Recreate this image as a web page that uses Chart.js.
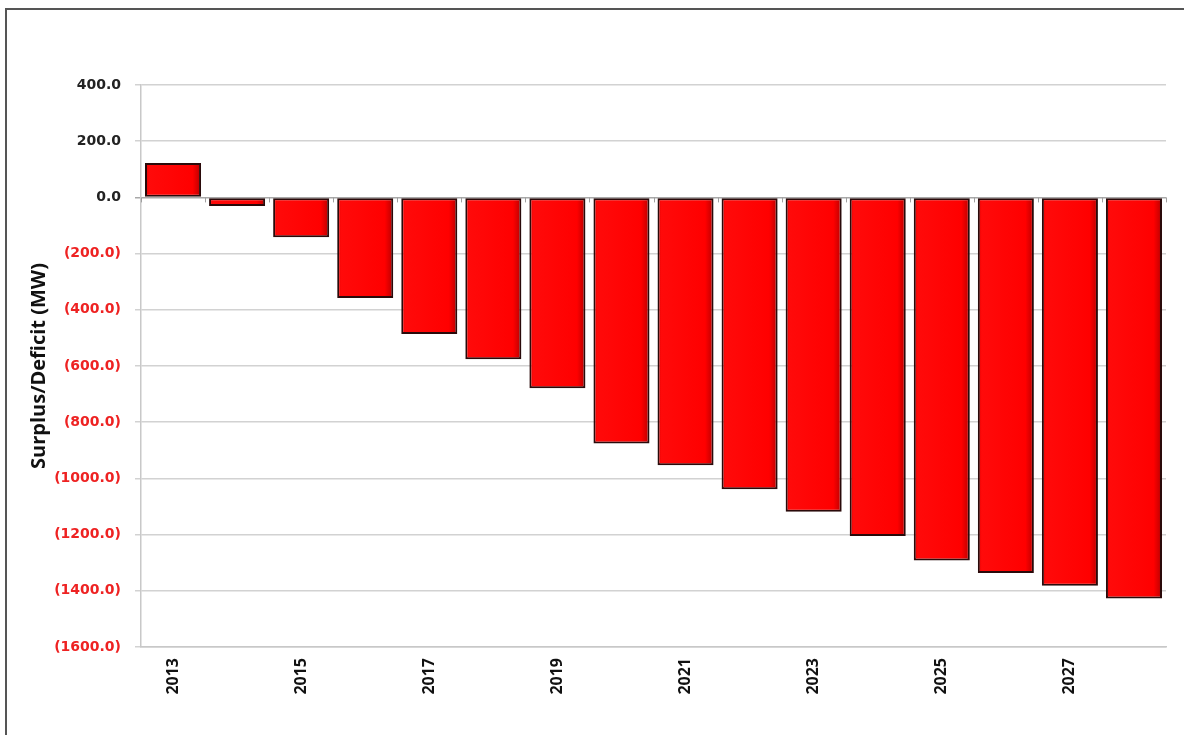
<!DOCTYPE html>
<html>
<head>
<meta charset="utf-8">
<script src="https://cdn.jsdelivr.net/npm/chart.js@4.4.1/dist/chart.umd.min.js"></script>
<style>
  html, body { margin: 0; padding: 0; background: #fff; }
  #wrap { position: relative; width: 1184px; height: 735px; }
  #frame {
    position: absolute; left: 5px; top: 8px; right: 0; bottom: 0;
    border-top: 2px solid #555; border-left: 2px solid #555;
    pointer-events: none;
  }
  canvas { position: absolute; left: 0; top: 0; }
</style>
</head>
<body>
<div id="wrap">
  <canvas id="chart" width="1184" height="735"></canvas>
  <div id="frame"></div>
</div>
<script>
const years = ['2013', '2014', '2015', '2016', '2017', '2018', '2019', '2020',
  '2021', '2022', '2023', '2024', '2025', '2026', '2027', '2028'];
const surplus = [122, -31, -142, -358, -486, -576, -679, -876,
  -953, -1039, -1119, -1205, -1292, -1337, -1382, -1427];
const yTicks = [400, 200, 0, -200, -400, -600, -800, -1000, -1200, -1400, -1600];

const BAR_PCT = 0.875;

// per-bar horizontal gradient to fake the bevelled Excel bars
function barFill(c) {
  const x = c.chart.scales.x;
  if (!x || c.dataIndex === undefined) return '#ff0000';
  const cat = x.getPixelForValue(1) - x.getPixelForValue(0);
  const mid = x.getPixelForValue(c.dataIndex);
  const left = mid - cat * BAR_PCT / 2;
  const right = mid + cat * BAR_PCT / 2;
  if (!isFinite(left) || !isFinite(right) || right <= left) return '#ff0000';
  const g = c.chart.ctx.createLinearGradient(left, 0, right, 0);
  g.addColorStop(0, '#e00000');
  g.addColorStop(0.07, '#ff0a0a');
  g.addColorStop(0.85, '#ff0000');
  g.addColorStop(0.95, '#d00000');
  g.addColorStop(1, '#900000');
  return g;
}

// little tick marks on the zero line between categories (Excel style)
const zeroTicks = {
  id: 'zeroTicks',
  afterDatasetsDraw(chart) {
    const { ctx, scales: { x, y } } = chart;
    const y0 = y.getPixelForValue(0);
    const half = (x.getPixelForValue(1) - x.getPixelForValue(0)) / 2;
    ctx.save();
    ctx.strokeStyle = '#a0a0a0';
    ctx.lineWidth = 1;
    for (let i = 0; i <= years.length; i++) {
      const px = Math.round(x.getPixelForValue(i) - half) + 0.5;
      ctx.beginPath();
      ctx.moveTo(px, y0);
      ctx.lineTo(px, y0 + 5);
      ctx.stroke();
    }
    ctx.restore();
  }
};

new Chart(document.getElementById('chart'), {
  type: 'bar',
  data: {
    labels: years,
    datasets: [{
      data: surplus,
      backgroundColor: barFill,
      borderColor: '#2a0a0a',
      borderWidth: 2,
      borderSkipped: false,
      barPercentage: BAR_PCT,
      categoryPercentage: 1
    }]
  },
  options: {
    responsive: false,
    animation: false,
    layout: { padding: { top: 85, right: 18, left: 0, bottom: 0 } },
    plugins: { legend: { display: false }, tooltip: { enabled: false } },
    scales: {
      x: {
        grid: { display: false, drawTicks: false },
        border: { display: true, color: '#c8c8c8', width: 1.5 },
        ticks: {
          autoSkip: false,
          minRotation: 90,
          maxRotation: 90,
          padding: 11,
          color: '#111',
          font: { family: '"Open Sans", sans-serif', size: 16, weight: 'bold' },
          callback: (v, i) => (i % 2 === 0 ? years[i] : '')
        },
        afterFit: (scale) => { scale.height = 88; }
      },
      y: {
        min: -1600,
        max: 400,
        afterBuildTicks: (scale) => { scale.ticks = yTicks.map(v => ({ value: v })); },
        grid: {
          color: (c) => (c.tick && c.tick.value === 0 ? '#a8a8a8' : '#d2d2d2'),
          lineWidth: 1.5,
          tickLength: 6
        },
        border: { color: '#c8c8c8', width: 1.5 },
        ticks: {
          padding: 14,
          color: (c) => (c.tick && c.tick.value < 0 ? '#ee2222' : '#222'),
          font: { family: '"DejaVu Sans", sans-serif', size: 14, weight: 'bold' },
          callback: (v) => (v < 0 ? '(' + Math.abs(v).toFixed(1) + ')' : v.toFixed(1))
        },
        title: {
          display: true,
          text: 'Surplus/Deficit (MW)',
          color: '#111',
          padding: { top: 27, bottom: 0 },
          font: { family: '"Open Sans", sans-serif', size: 20, weight: 'bold' }
        },
        afterFit: (scale) => { scale.width = 141; }
      }
    }
  },
  plugins: [zeroTicks]
});
</script>
</body>
</html>
